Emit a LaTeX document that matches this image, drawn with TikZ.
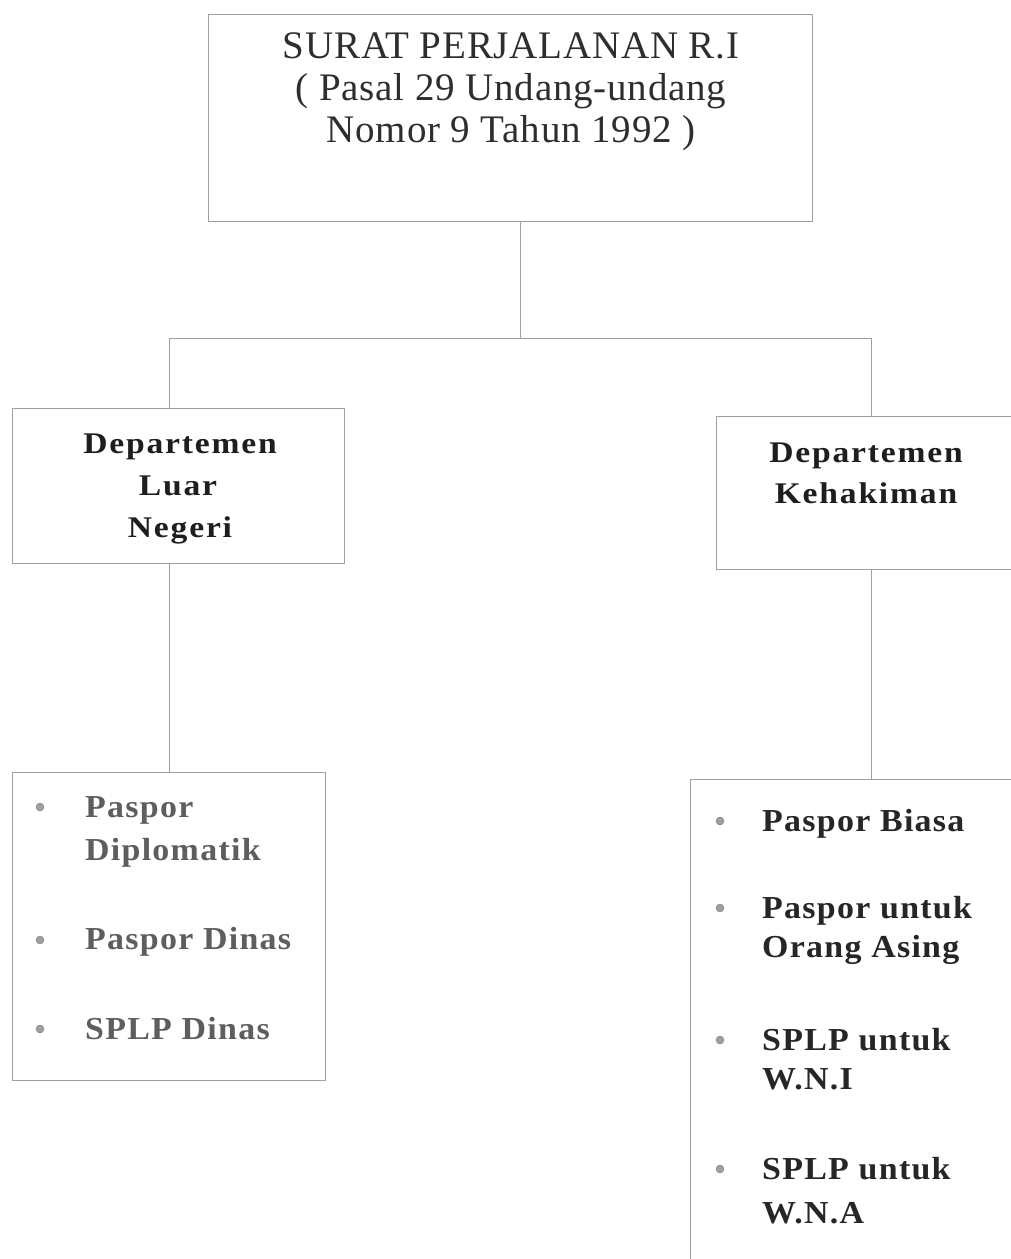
\documentclass[tikz,border=0pt]{standalone}
\usepackage{fontspec}
\setmainfont{Liberation Serif}
\newfontfamily\titlefont[LetterSpace=2]{Liberation Serif}
\newfontfamily\deptfont[LetterSpace=6, FakeStretch=1.12]{Liberation Serif}
\newfontfamily\itemfont[LetterSpace=4, FakeStretch=1.06]{Liberation Serif}
\definecolor{linegray}{HTML}{A0A0A0}
\definecolor{titlecol}{HTML}{2E2E2E}
\definecolor{deptcol}{HTML}{1E1E1E}
\definecolor{fadecol}{HTML}{5E5E5E}
\definecolor{itemcol}{HTML}{262626}
\tikzset{
  box/.style={draw=linegray, line width=0.9pt, rectangle, inner sep=0pt},
  conn/.style={draw=linegray, line width=0.9pt},
  titletext/.style={anchor=base, inner sep=0pt, text=titlecol, font=\titlefont\fontsize{39}{39}\selectfont},
  depttext/.style={anchor=base, inner sep=0pt, text=deptcol, font=\deptfont\bfseries\fontsize{30}{30}\selectfont},
  lefttext/.style={anchor=base west, inner sep=0pt, text=fadecol, font=\itemfont\bfseries\fontsize{32}{32}\selectfont},
  righttext/.style={anchor=base west, inner sep=0pt, text=itemcol, font=\itemfont\bfseries\fontsize{32}{32}\selectfont},
  dot/.style={circle, fill=gray!75, draw=gray, line width=0.4pt, minimum size=8pt, inner sep=0pt}
}
\begin{document}
\begin{tikzpicture}[x=1pt, y=-1pt]
\path[use as bounding box, clip] (0,0) rectangle (1011,1259);
\fill[white] (0,0) rectangle (1011,1259);

% boxes
\node[box, minimum width=604pt, minimum height=207pt] (top) at (510,117.5) {};
\node[box, minimum width=332pt, minimum height=155pt] (dl) at (178,485.5) {};
\node[box, minimum width=314pt, minimum height=153pt] (dk) at (873,492.5) {};
\node[box, minimum width=313pt, minimum height=308pt] (ll) at (168.5,926) {};
\node[box, minimum width=340pt, minimum height=501pt] (rl) at (860,1029.5) {};

% connectors
\coordinate (j) at (520,338);
\coordinate (jl) at (169,338);
\coordinate (jr) at (871,338);
\draw[conn] (top.south -| j) -- (j);
\draw[conn] (dl.north -| jl) -- (jl) -- (jr) -- (dk.north -| jr);
\draw[conn] (dl.south -| jl) -- (ll.north -| jl);
\draw[conn] (dk.south -| jr) -- (rl.north -| jr);

% title
\node[titletext] (t1) at (511,58) {SURAT PERJALANAN R.I};
\node[titletext] (t2) at (511,100) {( Pasal 29 Undang-undang};
\node[titletext] (t3) at (511,142) {Nomor 9 Tahun 1992 )};

% departments
\node[depttext] (d1) at (180,453) {Departemen};
\node[depttext] (d2) at (178,495) {Luar};
\node[depttext] (d3) at (180,537) {Negeri};
\node[depttext] (k1) at (866,462) {Departemen};
\node[depttext] (k2) at (866,503) {Kehakiman};

% left list
\node[dot] (lb1) at (40,807) {};
\node[lefttext] (l1) at (85,817) {Paspor};
\node[lefttext] (l2) at (85,860) {Diplomatik};
\node[dot] (lb2) at (40,940) {};
\node[lefttext] (l3) at (85,949) {Paspor Dinas};
\node[dot] (lb3) at (40,1029) {};
\node[lefttext] (l4) at (85,1039) {SPLP Dinas};

% right list
\node[dot] (rb1) at (720,821) {};
\node[righttext] (r1) at (762,831) {Paspor Biasa};
\node[dot] (rb2) at (720,908) {};
\node[righttext] (r2) at (762,918) {Paspor untuk};
\node[righttext] (r3) at (762,957) {Orang Asing};
\node[dot] (rb3) at (720,1040) {};
\node[righttext] (r4) at (762,1050) {SPLP untuk};
\node[righttext] (r5) at (762,1089) {W.N.I};
\node[dot] (rb4) at (720,1169) {};
\node[righttext] (r6) at (762,1179) {SPLP untuk};
\node[righttext] (r7) at (762,1223) {W.N.A};
\end{tikzpicture}
\end{document}
